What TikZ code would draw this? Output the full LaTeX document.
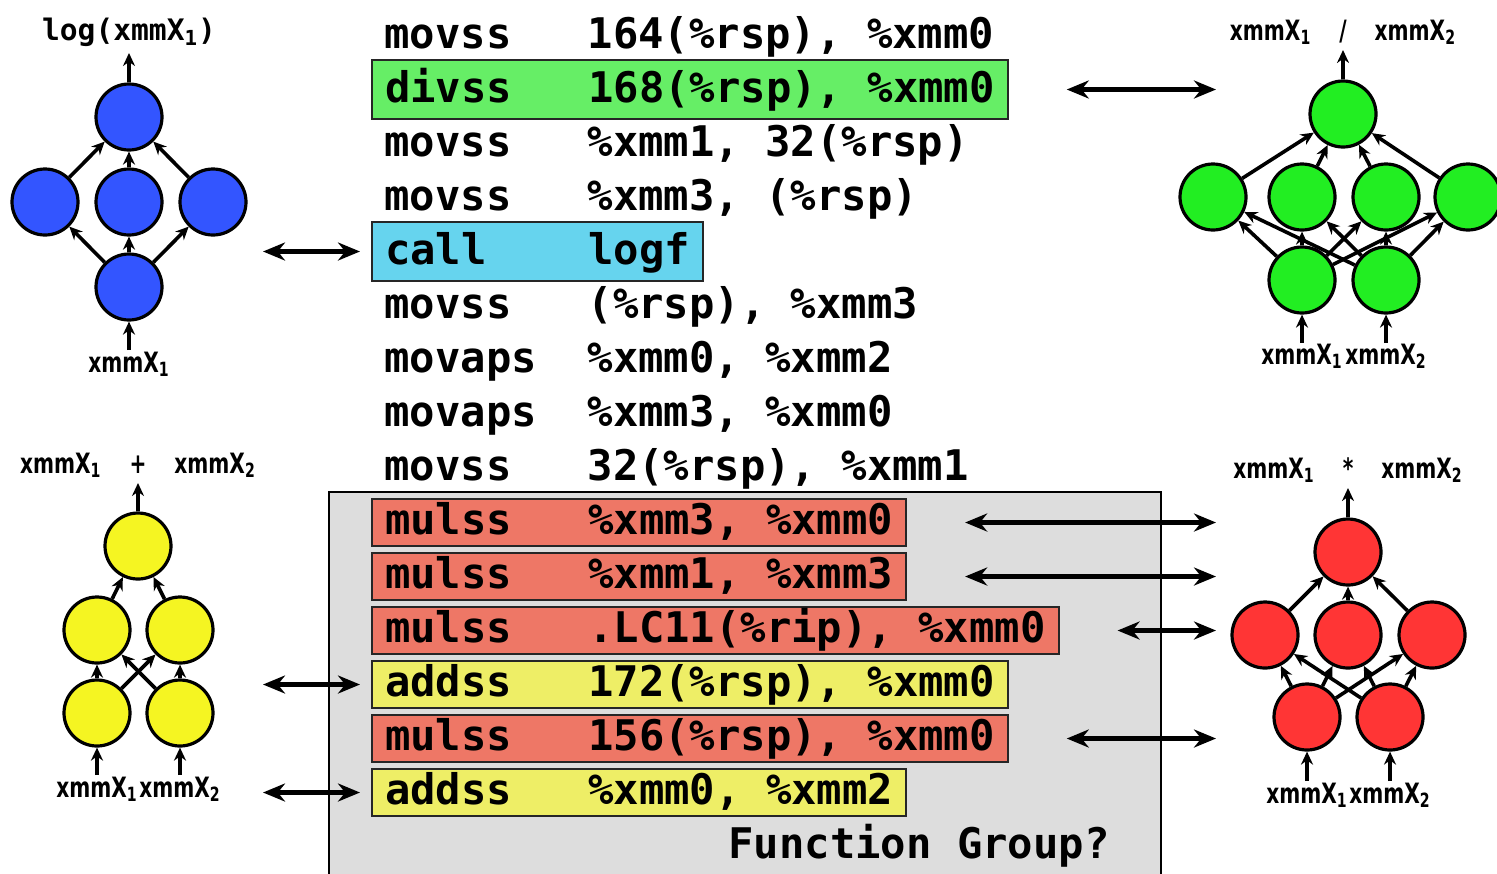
\documentclass[tikz,border=0pt]{standalone}
\usepackage{fontspec}
\setmonofont{DejaVu Sans Mono}
\newfontfamily\lblfont{DejaVu Sans}[FakeStretch=0.72]
\usetikzlibrary{arrows.meta}

\definecolor{cgreen}{HTML}{66EE66}
\definecolor{ccyan}{HTML}{66D4EE}
\definecolor{cred}{HTML}{EE7766}
\definecolor{cyel}{HTML}{EEEE66}
\definecolor{cgray}{HTML}{DDDDDD}
\definecolor{nblue}{HTML}{3355FF}
\definecolor{ngreen}{HTML}{22EE22}
\definecolor{nyel}{HTML}{F5F522}
\definecolor{nred}{HTML}{FF3535}

\newcommand{\xmm}[1]{xmmX\textsubscript{#1}}
\newcommand{\opsep}[1]{\hspace{1em}#1\hspace{1em}}

\begin{document}
\begin{tikzpicture}[x=0.5pt,y=-0.5pt,
    code/.style={anchor=base west,inner xsep=6.5pt,inner ysep=0pt,
      text height=21pt,text depth=8.5pt,
      font=\ttfamily\bfseries\fontsize{21.1}{25}\selectfont},
    hi/.style={draw=black!85,line width=1pt},
    lo/.style={text height=17.5pt,text depth=6pt},
    vtx/.style={circle,draw=black,line width=1.6pt,minimum size=33pt,inner sep=0pt},
    edge/.style={line width=1.8pt,-{Stealth[length=6.5pt,width=6pt]}},
    link/.style={line width=2.4pt,{Stealth[length=11pt,width=9pt]}-{Stealth[length=11pt,width=9pt]}},
    lbl/.style={anchor=base,inner sep=0pt,font=\lblfont\bfseries\fontsize{14}{16}\selectfont},
    loglbl/.style={anchor=base,inner sep=0pt,font=\ttfamily\bfseries\fontsize{14.8}{17}\selectfont}]
\useasboundingbox (0,0) rectangle (1497,873);

% function group background
\fill[cgray] (329,492) rectangle (1161,880);
\draw[line width=1.2pt] (329,880) -- (329,492) -- (1161,492) -- (1161,880);
\node[anchor=base east,inner sep=0pt,font=\ttfamily\bfseries\fontsize{21.1}{25}\selectfont]
  (fg) at (1110,858) {Function~Group?};

% assembly listing
\node[code] (c1) at (371,48) {movss~~~164(\%rsp),~\%xmm0};
\node[code,hi,fill=cgreen] (c2) at (371,102) {divss~~~168(\%rsp),~\%xmm0};
\node[code] (c3) at (371,156) {movss~~~\%xmm1,~32(\%rsp)};
\node[code] (c4) at (371,210) {movss~~~\%xmm3,~(\%rsp)};
\node[code,hi,fill=ccyan] (c5) at (371,264) {call~~~~logf};
\node[code] (c6) at (371,318) {movss~~~(\%rsp),~\%xmm3};
\node[code] (c7) at (371,372) {movaps~~\%xmm0,~\%xmm2};
\node[code] (c8) at (371,426) {movaps~~\%xmm3,~\%xmm0};
\node[code] (c9) at (371,480) {movss~~~32(\%rsp),~\%xmm1};
\node[code,lo,hi,fill=cred] (c10) at (371,534) {mulss~~~\%xmm3,~\%xmm0};
\node[code,lo,hi,fill=cred] (c11) at (371,588) {mulss~~~\%xmm1,~\%xmm3};
\node[code,lo,hi,fill=cred] (c12) at (371,642) {mulss~~~.LC11(\%rip),~\%xmm0};
\node[code,lo,hi,fill=cyel] (c13) at (371,696) {addss~~~172(\%rsp),~\%xmm0};
\node[code,lo,hi,fill=cred] (c14) at (371,750) {mulss~~~156(\%rsp),~\%xmm0};
\node[code,lo,hi,fill=cyel] (c15) at (371,804) {addss~~~\%xmm0,~\%xmm2};

% log graph
\node[vtx,fill=nblue] (bt) at (129,117) {};
\node[vtx,fill=nblue] (bl) at (45,202) {};
\node[vtx,fill=nblue] (bm) at (129,202) {};
\node[vtx,fill=nblue] (br) at (213,202) {};
\node[vtx,fill=nblue] (bb) at (129,287) {};
\foreach \m in {bl,bm,br} {
  \draw[edge] (bb) -- (\m);
  \draw[edge] (\m) -- (bt);
}
\node[loglbl] (blog) at (129,40) {log(\xmm{1})};
\node[lbl] (bin) at (129,372) {\xmm{1}};
\coordinate (bo) at (129,53);
\coordinate (bi) at (129,350);
\draw[edge] (bt) -- (bo);
\draw[edge] (bi) -- (bb);

% division graph
\node[vtx,fill=ngreen] (gt) at (1343,114) {};
\node[vtx,fill=ngreen] (g1) at (1213,197) {};
\node[vtx,fill=ngreen] (g2) at (1302,197) {};
\node[vtx,fill=ngreen] (g3) at (1386,197) {};
\node[vtx,fill=ngreen] (g4) at (1468,197) {};
\node[vtx,fill=ngreen] (gb1) at (1302,280) {};
\node[vtx,fill=ngreen] (gb2) at (1386,280) {};
\foreach \m in {g1,g2,g3,g4} {
  \draw[edge] (gb1) -- (\m);
  \draw[edge] (gb2) -- (\m);
  \draw[edge] (\m) -- (gt);
}
\node[lbl] (gdiv) at (1343,40) {\xmm{1}\opsep{/}\xmm{2}};
\node[lbl] (gin1) at (1302,364) {\xmm{1}};
\node[lbl] (gin2) at (1386,364) {\xmm{2}};
\coordinate (go) at (1343,50);
\coordinate (gi1) at (1302,343);
\coordinate (gi2) at (1386,343);
\draw[edge] (gt) -- (go);
\draw[edge] (gi1) -- (gb1);
\draw[edge] (gi2) -- (gb2);

% addition graph
\node[vtx,fill=nyel] (yt) at (138,546) {};
\node[vtx,fill=nyel] (y1) at (97,630) {};
\node[vtx,fill=nyel] (y2) at (180,630) {};
\node[vtx,fill=nyel] (yb1) at (97,713) {};
\node[vtx,fill=nyel] (yb2) at (180,713) {};
\foreach \m in {y1,y2} {
  \draw[edge] (yb1) -- (\m);
  \draw[edge] (yb2) -- (\m);
  \draw[edge] (\m) -- (yt);
}
\node[lbl] (yadd) at (138,473) {\xmm{1}\opsep{+}\xmm{2}};
\node[lbl] (yin1) at (97,797) {\xmm{1}};
\node[lbl] (yin2) at (180,797) {\xmm{2}};
\coordinate (yo) at (138,483);
\coordinate (yi1) at (97,775);
\coordinate (yi2) at (180,775);
\draw[edge] (yt) -- (yo);
\draw[edge] (yi1) -- (yb1);
\draw[edge] (yi2) -- (yb2);

% multiplication graph
\node[vtx,fill=nred] (rt) at (1348,552) {};
\node[vtx,fill=nred] (r1) at (1265,635) {};
\node[vtx,fill=nred] (r2) at (1348,635) {};
\node[vtx,fill=nred] (r3) at (1432,635) {};
\node[vtx,fill=nred] (rb1) at (1307,717) {};
\node[vtx,fill=nred] (rb2) at (1390,717) {};
\foreach \m in {r1,r2,r3} {
  \draw[edge] (rb1) -- (\m);
  \draw[edge] (rb2) -- (\m);
  \draw[edge] (\m) -- (rt);
}
\node[lbl] (rmul) at (1348,478) {\xmm{1}\opsep{*}\xmm{2}};
\node[lbl] (rin1) at (1307,803) {\xmm{1}};
\node[lbl] (rin2) at (1390,803) {\xmm{2}};
\coordinate (ro) at (1348,488);
\coordinate (ri1) at (1307,781);
\coordinate (ri2) at (1390,781);
\draw[edge] (rt) -- (ro);
\draw[edge] (ri1) -- (rb1);
\draw[edge] (ri2) -- (rb2);

% links between code and graphs
\coordinate (rgt) at (1216,0);
\coordinate (lft) at (263,0);
\foreach \c in {c2,c10,c11,c12,c14}
  \draw[link] ([xshift=29pt]\c.east) -- (\c.east -| rgt);
\foreach \c in {c5,c13,c15}
  \draw[link] (\c.west -| lft) -- ([xshift=-5.5pt]\c.west);
\end{tikzpicture}
\end{document}
